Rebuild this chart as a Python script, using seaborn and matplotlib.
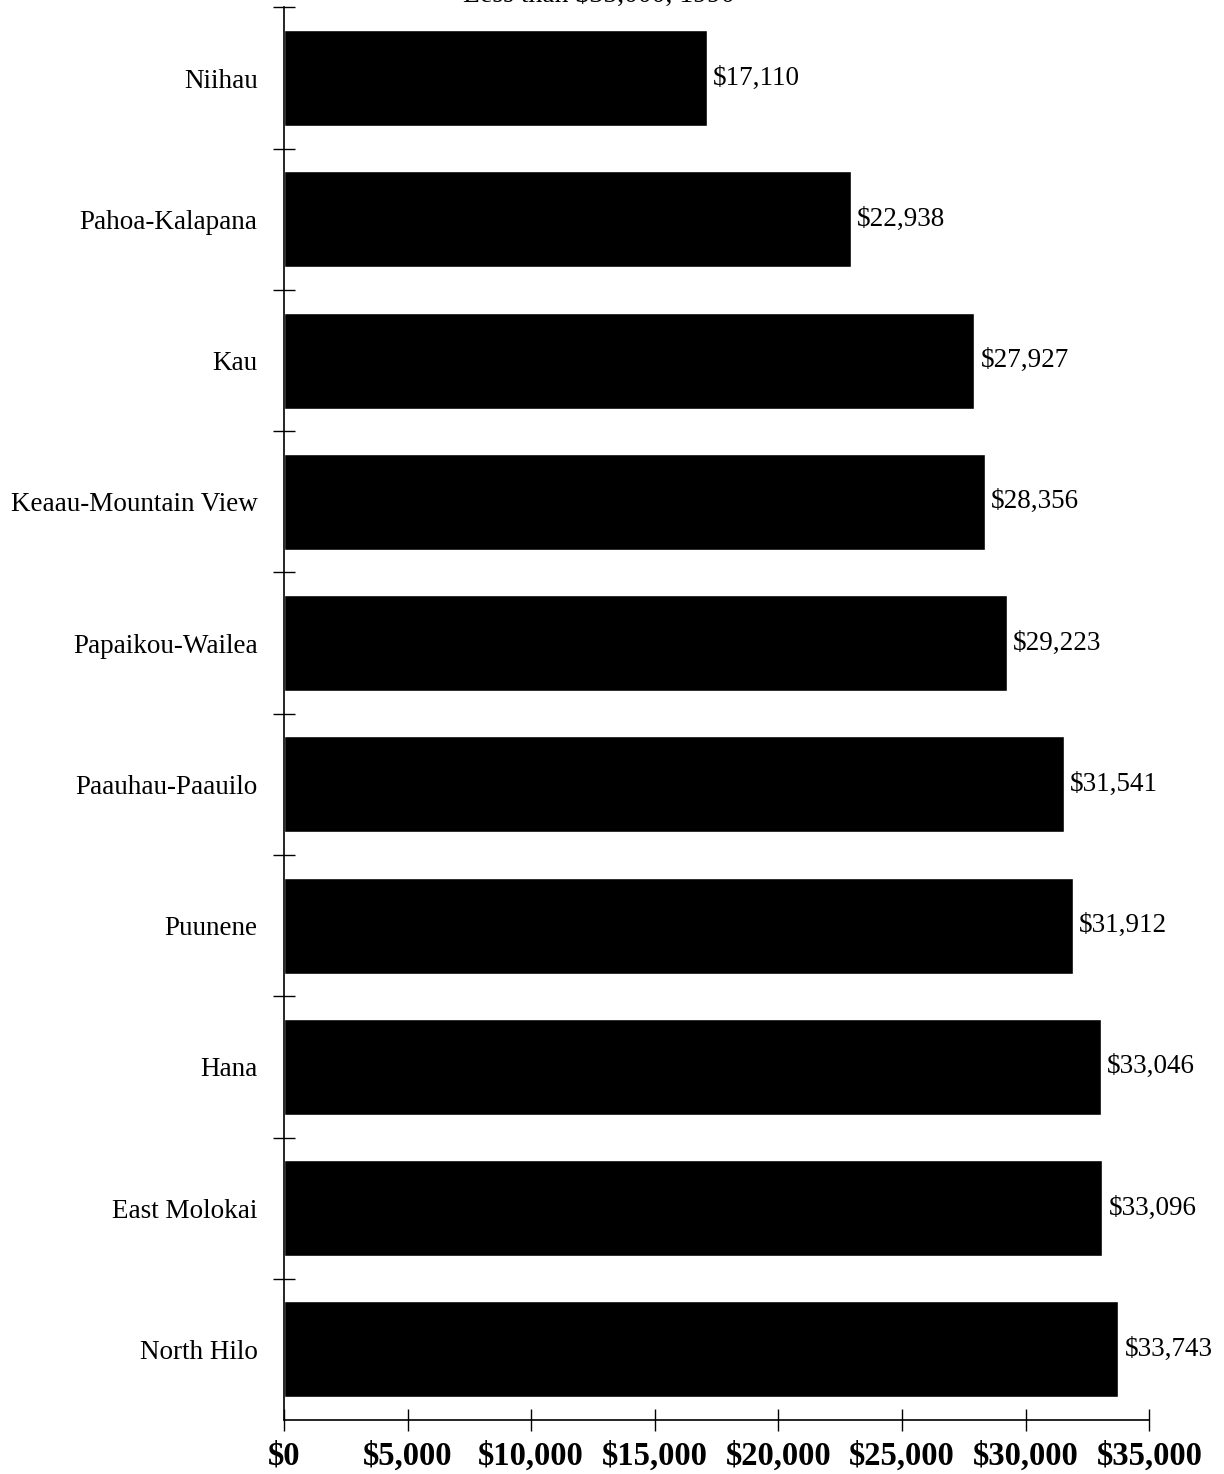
import matplotlib.pyplot as plt
import seaborn as sns
import numpy as np

sns.set_style("white")
plt.rcParams["font.family"] = ["Liberation Serif", "DejaVu Serif"]
plt.rcParams["text.color"] = "black"
plt.rcParams["xtick.color"] = "black"
plt.rcParams["ytick.color"] = "black"

areas = [
    "Niihau", "Pahoa-Kalapana", "Kau", "Keaau-Mountain View", "Papaikou-Wailea",
    "Paauhau-Paauilo", "Puunene", "Hana", "East Molokai", "North Hilo",
]
incomes = [17110, 22938, 27927, 28356, 29223, 31541, 31912, 33046, 33096, 33743]
x_ticks = [0, 5000, 10000, 15000, 20000, 25000, 30000, 35000]

fig = plt.figure(figsize=(12.24, 14.74), dpi=100)
ax = fig.add_axes([0.232, 0.0366, 0.707, 0.9584])

sns.barplot(x=incomes, y=areas, orient="h", color="black", width=0.68,
            saturation=1, ax=ax)

ax.set_xlim(0, 35000)
ax.set_ylim(len(areas) - 0.5, -0.5)

for i, v in enumerate(incomes):
    ax.text(v + 250, i, f"${v:,}", va="center", ha="left",
            fontsize=19.5, color="black")

ax.set_xticks(x_ticks)
ax.set_xticklabels([f"${t:,}" for t in x_ticks], fontsize=23.5, fontweight="bold")
ax.tick_params(axis="x", bottom=True, direction="inout", length=16, width=1,
               pad=7, labelcolor="black")

ax.set_yticks(range(len(areas)))
ax.set_yticklabels(areas, fontsize=19.5, color="black")
ax.tick_params(axis="y", which="major", left=True, length=0, pad=19)
ax.set_yticks(np.arange(-0.5, len(areas) - 0.5, 1), minor=True)
ax.tick_params(axis="y", which="minor", left=True, direction="inout",
               length=16, width=1)

for side in ["top", "right"]:
    ax.spines[side].set_visible(False)
for side in ["left", "bottom"]:
    ax.spines[side].set_color("black")
    ax.spines[side].set_linewidth(1.2)
ax.set_xlabel("")
ax.set_ylabel("")

# title sits mostly above the page edge, as in the source scan
fig.text(0.489, 1.003, "Less than $35,000, 1990", ha="center", va="center",
         fontsize=20, color="black")

fig.savefig("out.png", dpi=100)
